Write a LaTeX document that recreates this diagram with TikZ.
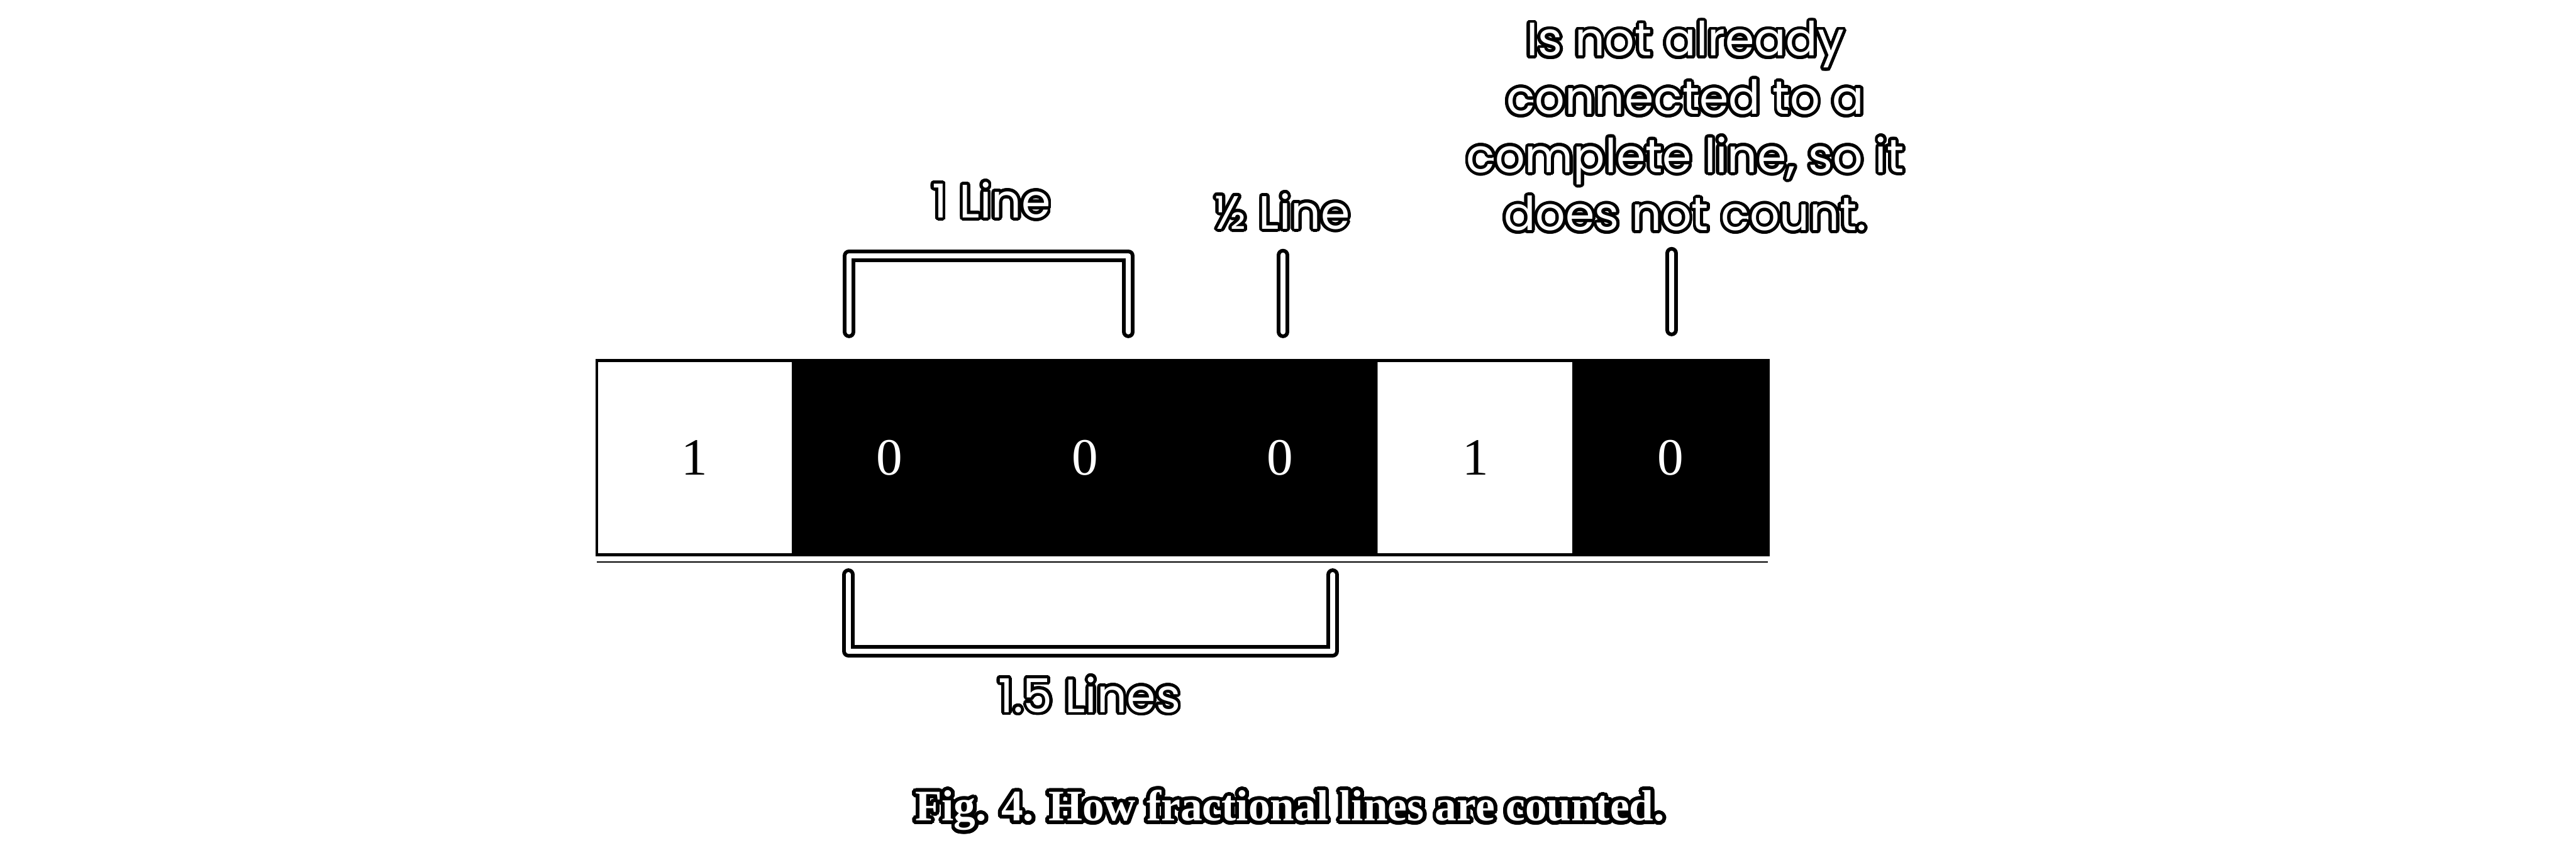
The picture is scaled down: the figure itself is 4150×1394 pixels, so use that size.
\documentclass[tikz,border=0pt]{standalone}
\usepackage{fontspec}
\setmainfont{Liberation Serif}
\newfontfamily\tagfont{Poppins}
\usepackage{contour}
\contourlength{1.4pt}
\contournumber{32}
\usetikzlibrary{positioning}
\tikzset{
  bit/.style={minimum width=31.45mm, minimum height=31.3mm, inner sep=0pt,
    outer sep=0pt, font=\fontsize{24}{28}\selectfont, line width=0.4pt},
  bitone/.style={bit, fill=white, draw=black!45, text=black},
  bitzero/.style={bit, fill=black, draw=black, text=white},
  rowframe/.style={draw=black, line width=0.5mm},
  rowrule/.style={draw=black, line width=0.2mm},
  % white stroke with a black rim
  bracketline/.style={draw=black, line width=0.6mm, double=white,
    double distance=0.8mm, line cap=round, line join=round},
  tag/.style={font=\tagfont\fontsize{21.5}{26.7}\selectfont, text=white,
    align=center, inner sep=0pt},
  figcap/.style={font=\bfseries\fontsize{20}{24}\selectfont, text=white, inner sep=0pt},
}
\begin{document}
\begin{tikzpicture}[x=0.1mm, y=-0.1mm]
  \useasboundingbox (0,0) rectangle (4150,1394);
  % the row of bits
  \node[bitone] (c1) at (1118.75,738) {1};
  \node[bitzero, right=0pt of c1] (c2) {0};
  \node[bitzero, right=0pt of c2] (c3) {0};
  \node[bitzero, right=0pt of c3] (c4) {0};
  \node[bitone,  right=0pt of c4] (c5) {1};
  \node[bitzero, right=0pt of c5] (c6) {0};
  \draw[rowframe] (c1.north west) rectangle (c6.south east);
  \draw[rowrule] ([yshift=-1.1mm]c1.south west) -- ([yshift=-1.1mm]c6.south east);
  % labels
  \node[tag, anchor=base] (oneline) at (1597,351) {\contour{black}{1 Line}};
  \node[tag, anchor=base] (halfline) at (2066,369) {\contour{black}{½ Line}};
  \node[tag, anchor=south] (nocount) at (2715,378)
    {\contour{black}{Is not already}\\\contour{black}{connected to a}\\
     \contour{black}{complete line, so it}\\\contour{black}{does not count.}};
  \node[tag, anchor=base] (onehalf) at (1755,1148) {\contour{black}{1.5 Lines}};
  \node[figcap, anchor=base] (caption) at (2078,1323)
    {\contourlength{1.7pt}\contour{black}{Fig. 4. How fractional lines are counted.}};
  % bracket ends
  \coordinate (olA) at (1368,535);  \coordinate (olB) at (1368,412);
  \coordinate (olC) at (1818,412);  \coordinate (olD) at (1818,535);
  \coordinate (hlA) at (2067,411);  \coordinate (hlB) at (2067,535);
  \coordinate (ncA) at (2693,408);  \coordinate (ncB) at (2693,532);
  \coordinate (ohA) at (1367,926);  \coordinate (ohB) at (1367,1050);
  \coordinate (ohC) at (2147,1050); \coordinate (ohD) at (2147,926);
  \draw[bracketline] (olA) -- (olB) -- (olC) -- (olD);
  \draw[bracketline] (hlA) -- (hlB);
  \draw[bracketline] (ncA) -- (ncB);
  \draw[bracketline] (ohA) -- (ohB) -- (ohC) -- (ohD);
\end{tikzpicture}
\end{document}
